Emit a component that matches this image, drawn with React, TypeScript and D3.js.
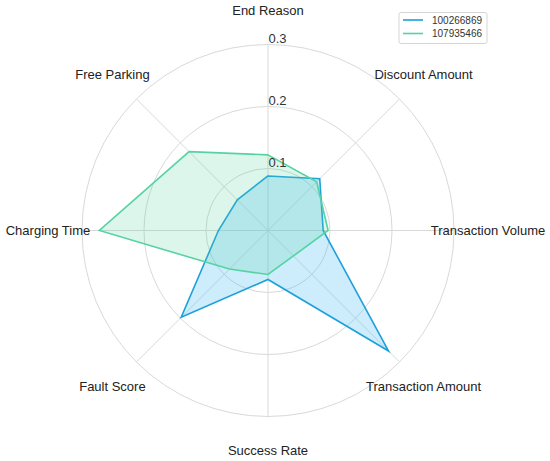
import React from "react";
import * as d3 from "d3";

const axes = [
  "End Reason",
  "Discount Amount",
  "Transaction Volume",
  "Transaction Amount",
  "Success Rate",
  "Fault Score",
  "Charging Time",
  "Free Parking",
];
const seriesNames = ["100266869", "107935466"];
const seriesA = [0.088, 0.118, 0.089, 0.275, 0.079, 0.198, 0.08, 0.07];
const seriesB = [0.122, 0.111, 0.097, 0.058, 0.071, 0.088, 0.272, 0.18];
const ringTicks = [0.1, 0.2, 0.3];

const colors = [
  { stroke: "#1ea0dc", fill: "rgba(60,184,242,0.26)" },
  { stroke: "#55d3a2", fill: "rgba(80,210,160,0.2)" },
];

const App = () => {
  const w = 550;
  const h = 461;
  const cx = 268;
  const cy = 230.5;
  const R = 186;
  const font = "'Liberation Sans', Arial, sans-serif";

  const r = d3.scaleLinear().domain([0, 0.3]).range([0, R]);
  const angle = d3
    .scaleLinear()
    .domain([0, axes.length])
    .range([0, 2 * Math.PI]);

  const radar = d3
    .lineRadial<number>()
    .angle((_, i) => angle(i))
    .radius((d) => r(d))
    .curve(d3.curveLinearClosed);

  const pt = (i: number, rad: number) => [
    cx + rad * Math.sin(angle(i)),
    cy - rad * Math.cos(angle(i)),
  ];

  const data = [seriesA, seriesB];

  return (
    <svg
      width={w}
      height={h}
      style={{ position: "absolute", left: 0, top: 0, background: "#fff" }}
      fontFamily={font}
    >
      {/* grid rings */}
      {ringTicks.map((t) => (
        <circle
          key={t}
          cx={cx}
          cy={cy}
          r={r(t)}
          fill="none"
          stroke="#d9d9d9"
          strokeWidth={1}
        />
      ))}
      {/* spokes */}
      {axes.map((a, i) => {
        const [x, y] = pt(i, R);
        return (
          <line key={a} x1={cx} y1={cy} x2={x} y2={y} stroke="#d9d9d9" strokeWidth={1} />
        );
      })}

      {/* series */}
      <g transform={`translate(${cx},${cy})`}>
        {data.map((d, k) => (
          <path
            key={k}
            d={radar(d) || ""}
            fill={colors[k].fill}
            stroke={colors[k].stroke}
            strokeWidth={1.6}
            strokeLinejoin="miter"
          />
        ))}
      </g>

      {/* ring labels */}
      {ringTicks.map((t) => (
        <text key={t} x={cx + 0.5} y={cy - r(t) - 1.5} fontSize={13} fill="#333">
          {t.toFixed(1)}
        </text>
      ))}

      {/* axis labels */}
      {axes.map((a, i) => {
        const [x, y] = pt(i, 220);
        return (
          <text
            key={a}
            x={x}
            y={y}
            textAnchor="middle"
            dominantBaseline="central"
            fontSize={13}
            fill="#222"
          >
            {a}
          </text>
        );
      })}

      {/* legend */}
      <g>
        <rect
          x={399}
          y={12.5}
          width={88}
          height={31}
          rx={2}
          fill="#fff"
          stroke="#d5d5d5"
          strokeWidth={1}
        />
        {seriesNames.map((n, k) => (
          <g key={n}>
            <line
              x1={403}
              x2={423}
              y1={20 + k * 13.5}
              y2={20 + k * 13.5}
              stroke={colors[k].stroke}
              strokeWidth={1.6}
            />
            <text x={432} y={23.5 + k * 13.5} fontSize={10} fill="#333">
              {n}
            </text>
          </g>
        ))}
      </g>
    </svg>
  );
};

export default App;
